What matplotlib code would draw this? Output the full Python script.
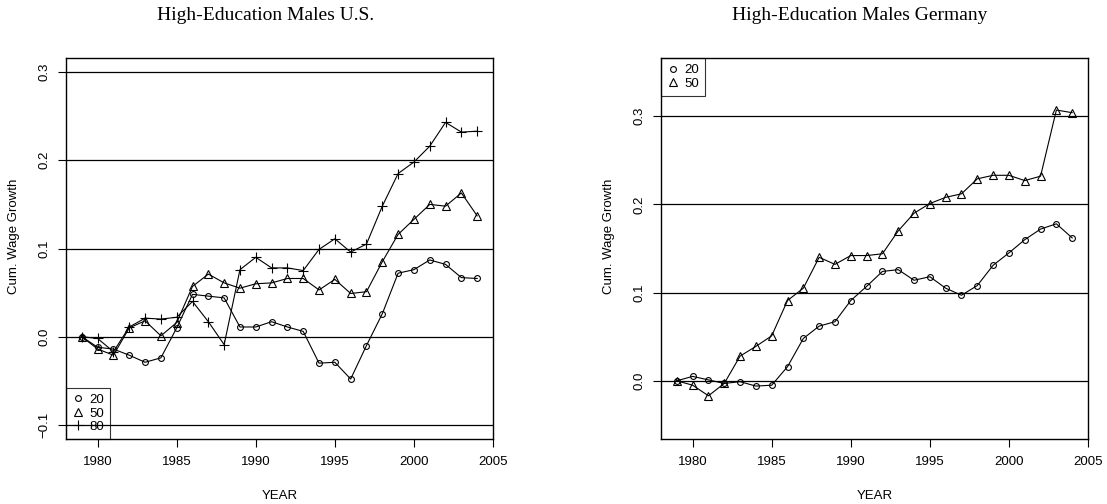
import numpy as np
import matplotlib
matplotlib.use("Agg")
import matplotlib.pyplot as plt

years = np.arange(1979, 2005)

# U.S. high-education males, cumulative wage growth by percentile
us_p20 = [0.000, -0.012, -0.014, -0.021, -0.029, -0.024, 0.010, 0.048, 0.046, 0.044,
          0.011, 0.011, 0.017, 0.011, 0.006, -0.030, -0.029, -0.048, -0.010, 0.026,
          0.072, 0.076, 0.087, 0.082, 0.067, 0.066]
us_p50 = [0.000, -0.014, -0.021, 0.010, 0.018, 0.001, 0.016, 0.057, 0.071, 0.061,
          0.055, 0.060, 0.061, 0.066, 0.066, 0.053, 0.065, 0.049, 0.051, 0.085,
          0.116, 0.133, 0.150, 0.148, 0.163, 0.137]
us_p80 = [0.000, -0.002, -0.017, 0.011, 0.021, 0.020, 0.022, 0.040, 0.017, -0.009,
          0.076, 0.090, 0.078, 0.078, 0.075, 0.099, 0.111, 0.096, 0.105, 0.148,
          0.185, 0.198, 0.216, 0.243, 0.232, 0.233]

# Germany high-education males
de_p20 = [0.000, 0.005, 0.001, -0.003, -0.001, -0.006, -0.005, 0.016, 0.048, 0.062,
          0.067, 0.091, 0.107, 0.124, 0.126, 0.114, 0.118, 0.105, 0.097, 0.108,
          0.131, 0.145, 0.160, 0.172, 0.178, 0.162]
de_p50 = [0.000, -0.005, -0.017, -0.003, 0.028, 0.039, 0.051, 0.091, 0.105, 0.140,
          0.132, 0.142, 0.142, 0.144, 0.170, 0.190, 0.201, 0.208, 0.212, 0.229,
          0.233, 0.233, 0.227, 0.232, 0.307, 0.304]

xticks = [1980, 1985, 1990, 1995, 2000, 2005]

plt.rcParams['font.family'] = ['Liberation Sans', 'DejaVu Sans']

W, H = 1107, 504
fig = plt.figure(figsize=(W / 100, H / 100), dpi=100)

mk = dict(color='black', lw=0.8, markerfacecolor='none', markeredgecolor='black',
          markeredgewidth=0.8)
styles = {'20': dict(marker='o', markersize=4.2),
          '50': dict(marker='^', markersize=5.5),
          '80': dict(marker='+', markersize=7)}


def panel(left, series, hlines, ylim, yticks, title, title_x, legend_loc):
    ax = fig.add_axes([left / W, (H - 439) / H, 427 / W, 381 / H])
    for h in hlines:
        ax.axhline(h, color='black', lw=0.9, zorder=1)
    for name, vals in series.items():
        ax.plot(years, vals, label=name, zorder=3, **mk, **styles[name])
    ax.set_xlim(1978, 2005)
    ax.set_ylim(*ylim)
    ax.set_xticks(xticks)
    ax.set_yticks(yticks)
    ax.set_yticklabels([f"{t:.1f}".replace('-', '\u2212') for t in yticks],
                       rotation=90, va='center')
    ax.tick_params(axis='both', labelsize=9.5, length=6, width=0.8, direction='out')
    ax.tick_params(axis='x', pad=6)
    ax.tick_params(axis='y', pad=5)
    for s in ax.spines.values():
        s.set_linewidth(1.0)
    leg = ax.legend(loc=legend_loc, fontsize=9.5, frameon=True, fancybox=False,
                    borderaxespad=0, handlelength=0.9, handletextpad=0.4,
                    borderpad=0.45, labelspacing=0.1)
    leg.get_frame().set_edgecolor('black')
    leg.get_frame().set_linewidth(0.8)
    leg.get_frame().set_facecolor('none')
    for line in leg.get_lines():
        line.set_linestyle('none')
    fig.text((left - 51.7) / W, 1 - 236.7 / H, "Cum. Wage Growth", rotation=90,
             ha='center', va='center', fontsize=9.5)
    fig.text((left + 213.5) / W, 1 - 496 / H, "YEAR", ha='center', va='center',
             fontsize=9.5)
    fig.text(title_x / W, 1 - 16 / H, title, ha='center', va='center',
             fontsize=14, family='Liberation Serif')
    return ax


panel(66, {'20': us_p20, '50': us_p50, '80': us_p80},
      [-0.1, 0.0, 0.1, 0.2, 0.3], (-0.116, 0.316), [-0.1, 0.0, 0.1, 0.2, 0.3],
      "High-Education Males U.S.", 266, 'lower left')
panel(661, {'20': de_p20, '50': de_p50},
      [0.0, 0.1, 0.2, 0.3], (-0.066, 0.366), [0.0, 0.1, 0.2, 0.3],
      "High-Education Males Germany", 859.7, 'upper left')

fig.savefig("out.png", dpi=100)
